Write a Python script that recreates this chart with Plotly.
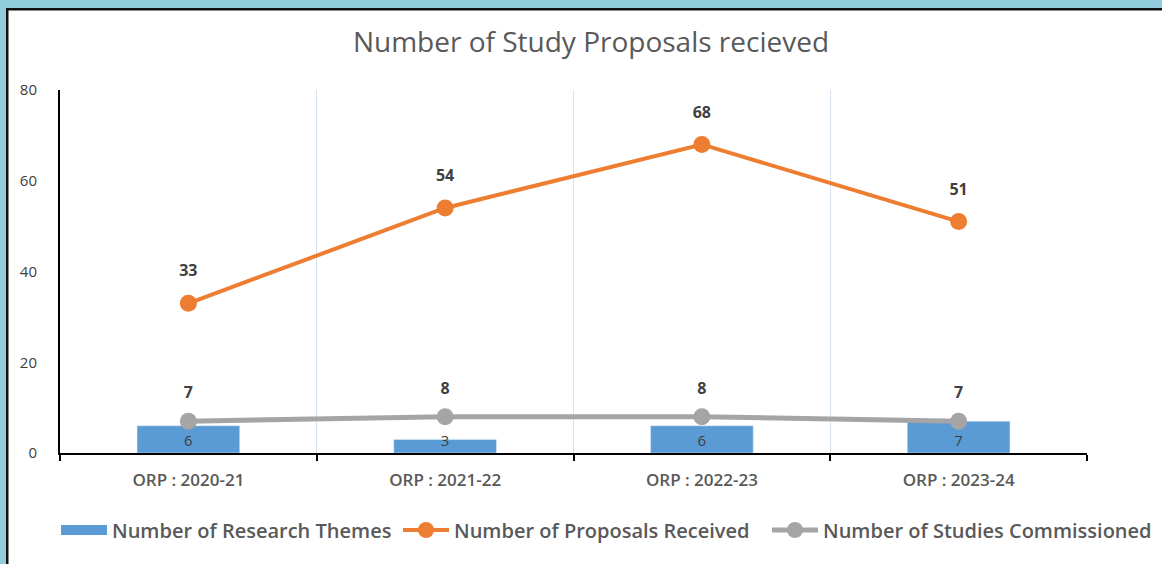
import plotly.graph_objects as go

categories = ["ORP : 2020-21", "ORP : 2021-22", "ORP : 2022-23", "ORP : 2023-24"]
research_themes = [6, 3, 6, 7]
proposals_received = [33, 54, 68, 51]
studies_commissioned = [7, 8, 8, 7]

W, H = 1162, 564
L, R, T, B = 60, 75, 90, 111
PW, PH = W - L - R, H - T - B

def px2x(px):
    return (px - L) / PW

def py2y(py):
    return (H - B - py) / PH

FONT = "Open Sans"
BLUE, ORANGE, GRAY = "#5B9BD5", "#ED7D31", "#A5A5A5"
LABEL = dict(family=FONT, size=16, color="#404040", weight="bold")

fig = go.Figure()
fig.add_trace(go.Bar(
    x=categories, y=research_themes, name="Number of Research Themes",
    marker_color=BLUE, width=0.4, showlegend=False,
    text=research_themes, textposition="inside", insidetextanchor="start",
    constraintext="none", textangle=0,
    textfont=dict(family=FONT, size=15, color="#404040"),
))
# legend entry for bars (wide swatch like the reference)
fig.add_trace(go.Scatter(
    x=[None], y=[None], name="Number of Research Themes", mode="lines",
    line=dict(color=BLUE, width=12), legendrank=1, legendwidth=281,
))
fig.add_trace(go.Scatter(
    x=categories, y=proposals_received, name="Number of Proposals Received",
    mode="lines+markers", line=dict(color=ORANGE, width=4),
    marker=dict(size=17, color=ORANGE), legendrank=2, legendwidth=308,
))
fig.add_trace(go.Scatter(
    x=categories, y=studies_commissioned, name="Number of Studies Commissioned",
    mode="lines+markers", line=dict(color=GRAY, width=5),
    marker=dict(size=17, color=GRAY), legendrank=3,
))
# data labels above the points
for vals, pad in ((proposals_received, 35), (studies_commissioned, 29)):
    fig.add_trace(go.Scatter(
        x=categories, y=vals, mode="markers+text", showlegend=False, hoverinfo="skip",
        marker=dict(size=pad, color="rgba(0,0,0,0)"),
        text=[str(v) for v in vals], textposition="top center", textfont=LABEL,
    ))

shapes = [
    dict(type="rect", xref="paper", yref="paper", x0=px2x(0), x1=px2x(6), y0=py2y(H), y1=py2y(0),
         fillcolor="#92CDDC", line_width=0, layer="below"),
    dict(type="rect", xref="paper", yref="paper", x0=px2x(0), x1=px2x(W), y0=py2y(8), y1=py2y(0),
         fillcolor="#92CDDC", line_width=0, layer="below"),
    dict(type="rect", xref="paper", yref="paper", x0=px2x(6), x1=px2x(8.5), y0=py2y(H), y1=py2y(8),
         fillcolor="#111111", line_width=0, layer="below"),
    dict(type="rect", xref="paper", yref="paper", x0=px2x(6), x1=px2x(W), y0=py2y(10.5), y1=py2y(8),
         fillcolor="#111111", line_width=0, layer="below"),
]

fig.update_layout(
    width=W, height=H,
    margin=dict(l=L, r=R, t=T, b=B, autoexpand=False),
    paper_bgcolor="white", plot_bgcolor="white",
    font=dict(family=FONT, color="#595959"),
    title=dict(text="Number of Study Proposals recieved", xref="container", x=591 / W,
               xanchor="center", y=1 - 42 / H, yanchor="middle",
               font=dict(family=FONT, size=28, color="#595959")),
    barmode="overlay",
    showlegend=True,
    legend=dict(orientation="h", x=px2x(1157), xanchor="right", y=py2y(530), yanchor="middle",
                font=dict(family=FONT, size=20, color="#595959", weight=600),
                itemwidth=46, traceorder="normal", tracegroupgap=0),
    xaxis=dict(
        tickson="boundaries", showgrid=True, gridcolor="#D6E3EE", gridwidth=1,
        showline=True, linecolor="black", linewidth=2,
        ticks="outside", ticklen=6, tickcolor="black", tickwidth=2,
        tickfont=dict(family=FONT, size=17, color="#595959", weight=600),
        ticklabelstandoff=11,
        range=[-0.5, 3.5],
    ),
    yaxis=dict(
        range=[0, 80], tickvals=[0, 20, 40, 60, 80], showgrid=False,
        showline=True, linecolor="black", linewidth=2, zeroline=False,
        ticks="", tickfont=dict(family=FONT, size=15, color="#404040"),
        ticklabelstandoff=18,
    ),
    shapes=shapes,
)

fig.write_html("out.html")
